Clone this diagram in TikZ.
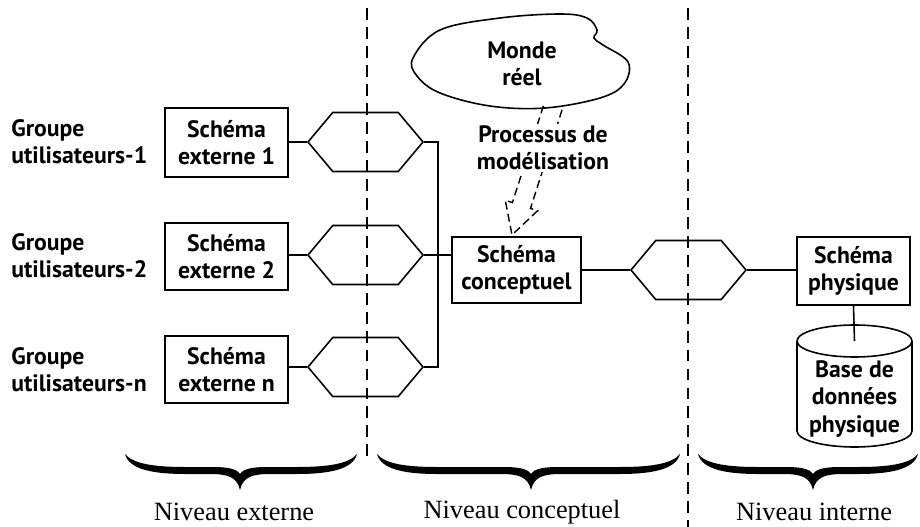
\documentclass[tikz,border=0pt]{standalone}
\usepackage{fontspec}
\setmainfont{Liberation Serif}
\newfontfamily\optima{PT Sans}
\usetikzlibrary{calc,shapes.symbols}
\def\px{0.02cm}
\tikzset{
  txt/.style = {align=center, inner sep=0pt, font=\optima\bfseries\fontsize{13.5}{15.5}\selectfont},
  schema/.style = {txt, draw, line width=0.9pt},
  hexa/.style = {draw, line width=0.9pt, signal, signal to=west and east,
                 signal pointer angle=100, minimum width=115*\px,
                 minimum height=59*\px, inner sep=0pt},
  niveau/.style = {inner sep=0pt, font=\fontsize{15}{18}\selectfont},
  limite/.style = {line width=0.8pt, dash pattern=on 6.8pt off 4pt}
}
% curly brace: left end, tip, right end
\newcommand\accolade[3]{%
  \fill (#1,454) .. controls (#1+4,470) and (#1+30,474) .. (#1+60,474)
    -- (#2-30,474) .. controls (#2-12,474) and (#2-3,477) .. (#2,490)
    .. controls (#2+3,477) and (#2+12,474) .. (#2+30,474)
    -- (#3-60,474) .. controls (#3-30,474) and (#3-4,470) .. (#3,454)
    .. controls (#3-8,464) and (#3-30,467) .. (#3-60,467)
    -- (#2+30,467) .. controls (#2+14,467) and (#2+4,468) .. (#2,474)
    .. controls (#2-4,468) and (#2-14,467) .. (#2-30,467)
    -- (#1+60,467) .. controls (#1+30,467) and (#1+8,464) .. (#1,454) -- cycle;}

\begin{document}
\begin{tikzpicture}[x=0.02cm, y=-0.02cm]
	\useasboundingbox (0,0) rectangle (920,527);

	% Groups and external schemas
	\node[txt, align=left, anchor=west] (g1) at (11,142) {Groupe\\utilisateurs-1};
	\node[txt, align=left, anchor=west] (g2) at (11,256) {Groupe\\utilisateurs-2};
	\node[txt, align=left, anchor=west] (gn) at (11,370) {Groupe\\utilisateurs-n};

	\node[schema, minimum width=123*\px, minimum height=69*\px] (ext1) at (226.5,142.5) {Schéma\\externe 1};
	\node[schema, minimum width=123*\px, minimum height=67*\px] (ext2) at (226.5,256.5) {Schéma\\externe 2};
	\node[schema, minimum width=123*\px, minimum height=67*\px] (extn) at (226.5,369.5) {Schéma\\externe n};

	% Mappings
	\node[hexa] (hex1) at (365.5,142) {};
	\node[hexa] (hex2) at (365.5,255) {};
	\node[hexa] (hexn) at (365.5,367) {};
	\node[hexa] (hexi) at (688.5,270) {};

	\draw[line width=0.9pt] (ext1.east |- hex1.west) -- (hex1.west);
	\draw[line width=0.9pt] (ext2.east |- hex2.west) -- (hex2.west);
	\draw[line width=0.9pt] (extn.east |- hexn.west) -- (hexn.west);

	% Conceptual and internal level
	\node[schema, minimum width=129*\px, minimum height=66*\px] (conc) at (516.5,270) {Schéma\\conceptuel};
	\node[schema, minimum width=113*\px, minimum height=68*\px] (phys) at (853.5,271) {Schéma\\physique};

	\draw[line width=0.9pt] (hex1.east) -- ++(14,0) |- (hexn.east);
	\draw[line width=0.9pt] (hex2.east) -- (hex2.east -| conc.west);
	\draw[line width=0.9pt] (conc.east |- hexi.west) -- (hexi.west);
	\draw[line width=0.9pt] (hexi.east) -- (hexi.east -| phys.west);

	% Database
	\coordinate (bdtop) at (854.5,341);
	\draw[line width=0.9pt] (bdtop) ellipse (57.5 and 16);
	\draw[line width=0.9pt] (797,341) -- (797,431) arc[start angle=180, end angle=0, x radius=57.5, y radius=16] -- (912,341);
	\node[txt] (bd) at (854.5,399) {Base de\\données\\physique};
	\draw[line width=0.9pt] (phys.south) -- (bdtop);

	% Real world
	\draw[line width=0.9pt] plot[smooth cycle, tension=0.6] coordinates {
		(413,58) (440,30) (500,18) (560,14) (587,18) (597,30) (594,38)
		(603,45) (628,62) (624,84) (600,98) (545,108) (490,106) (440,93) (417,76)};
	\node[txt] (monde) at (522,64) {Monde\\réel};

	% Modelling arrow
	\coordinate (mtail) at (553,107);
	\coordinate (mtip) at (512,235);
	\coordinate (mbase) at ($(mtip)!0.62cm!(mtail)$);
	\draw[line width=0.8pt, dash pattern=on 4.5pt off 2.5pt]
		($(mtail)!0.19cm!90:(mtip)$) -- ($(mbase)!0.19cm!-90:(mtail)$)
		-- ($(mbase)!0.34cm!-90:(mtail)$) -- (mtip)
		-- ($(mbase)!0.34cm!90:(mtail)$) -- ($(mbase)!0.19cm!90:(mtail)$)
		-- ($(mtail)!0.19cm!-90:(mtip)$);
	\node[txt, fill=white, inner sep=1pt] (proc) at (543,148) {Processus de\\modélisation};

	% Level limits
	\draw[limite] (367,8) -- (367,462);
	\draw[limite] (688,8) -- (688,527);

	% Braces
	\accolade{125}{240}{357}
	\accolade{377}{531}{680}
	\accolade{698}{813}{918}

	% Levels
	\node[niveau] (next) at (234,512) {Niveau externe};
	\node[niveau] (ncon) at (522,512) {Niveau conceptuel};
	\node[niveau] (nint) at (814,512) {Niveau interne};
\end{tikzpicture}
\end{document}
